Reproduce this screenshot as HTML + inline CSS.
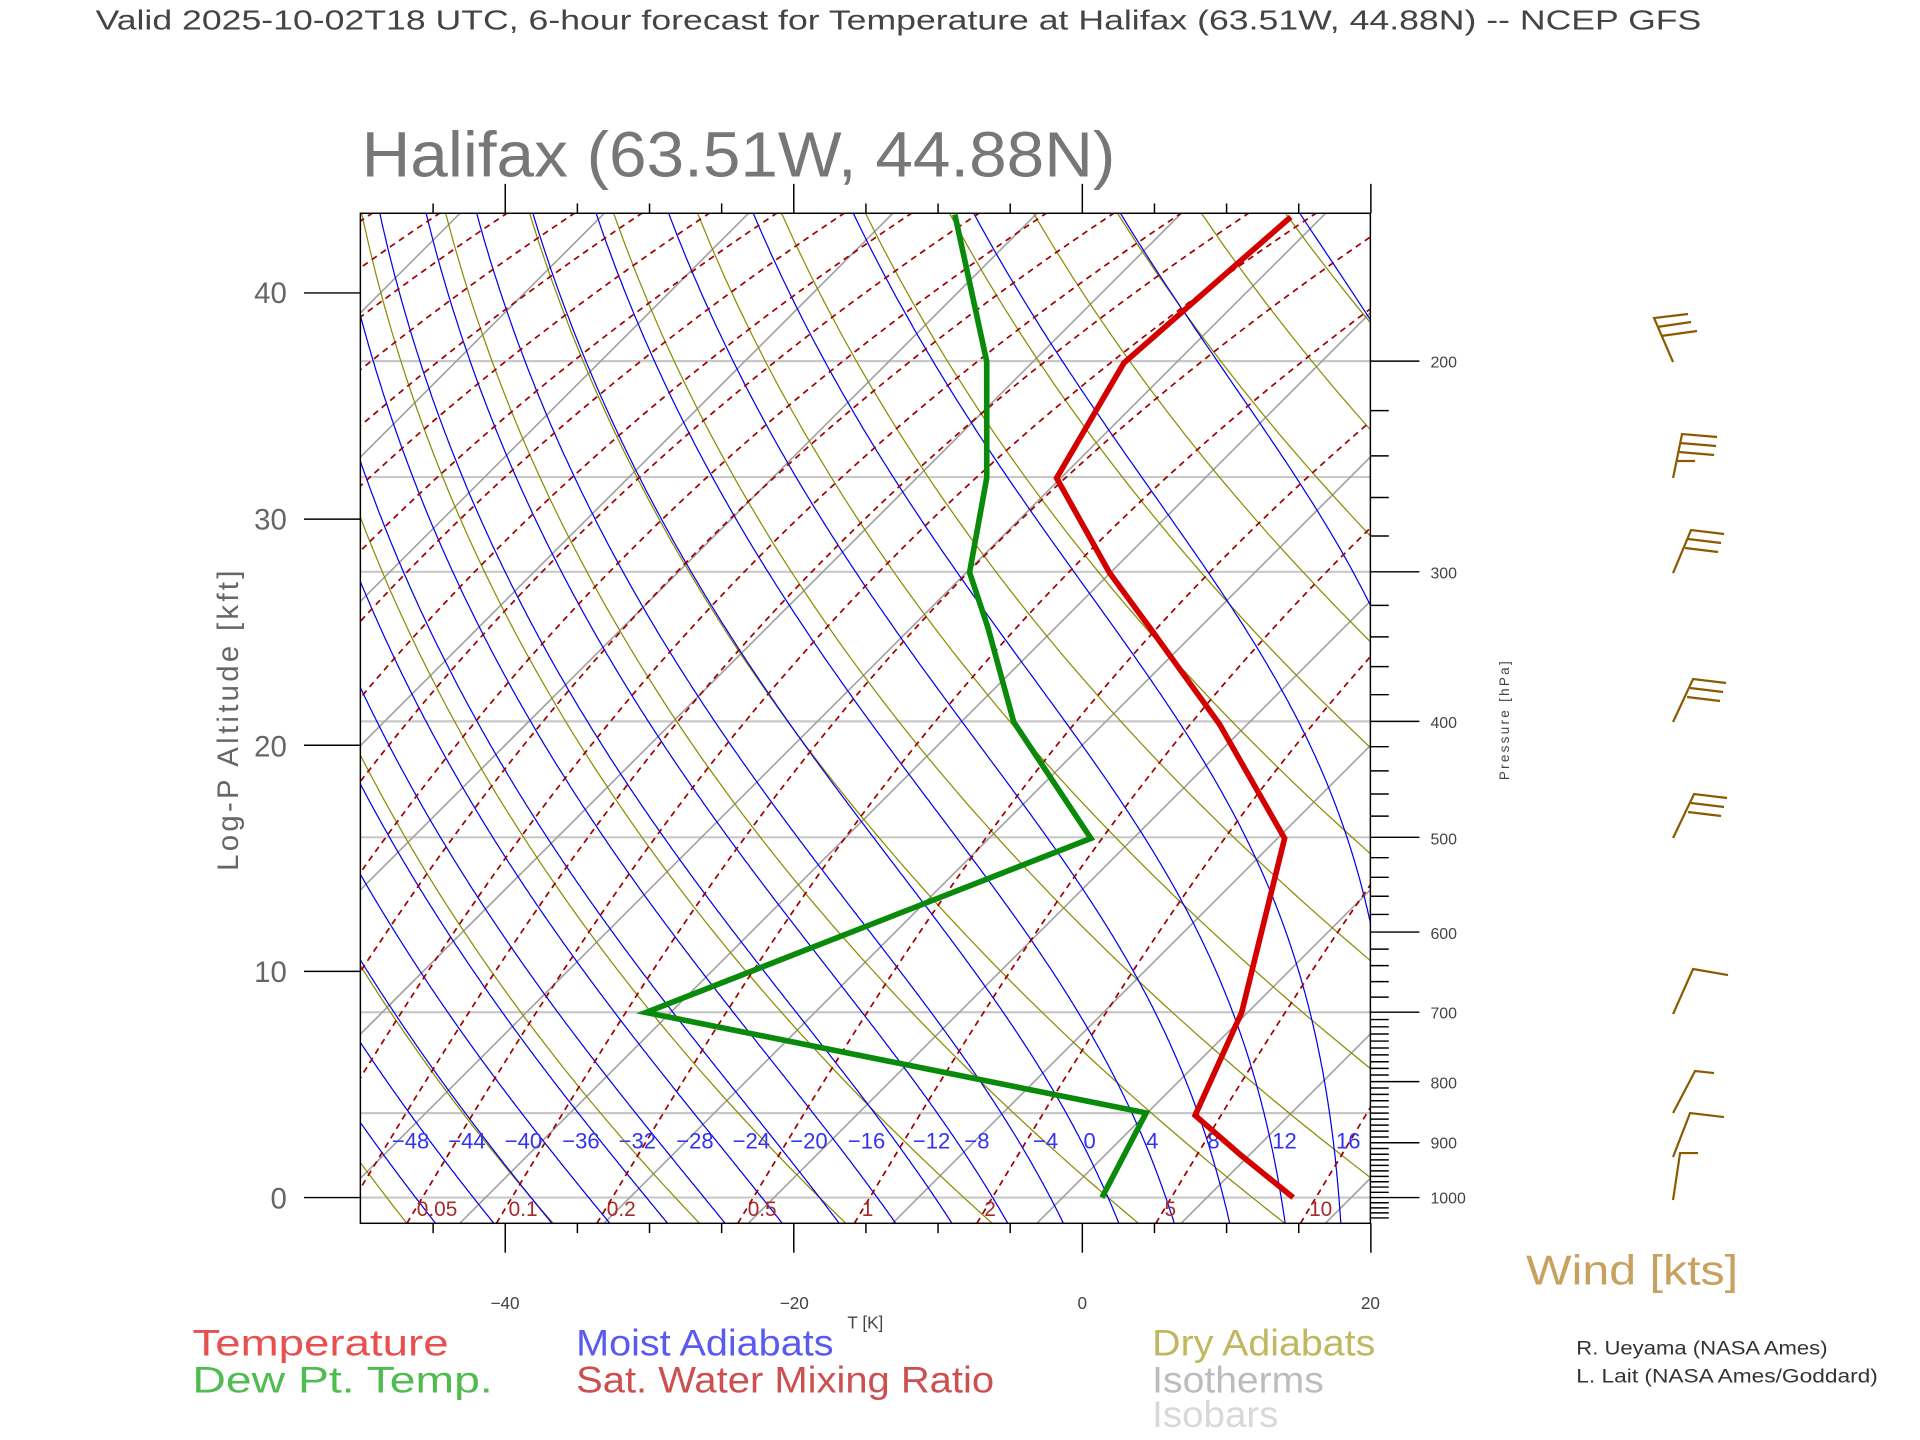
<!DOCTYPE html>
<html><head><meta charset="utf-8">
<style>
html,body{margin:0;padding:0;background:#fff;}
svg{display:block;font-family:"Liberation Sans",sans-serif;}
</style></head>
<body>
<svg id="s" width="1920" height="1440" viewBox="0 0 1566.4 1174.8" xmlns="http://www.w3.org/2000/svg">
<rect x="0" y="0" width="1566.4" height="1174.8" fill="#fff"/>
<defs><clipPath id="cp"><rect x="294" y="174" width="824" height="824"/></clipPath></defs>
<g id="grid" clip-path="url(#cp)"></g>
<g id="labs"></g>
<g clip-path="url(#cp)">
<polyline fill="none" stroke="#0a8a0a" stroke-width="4.6" stroke-linejoin="miter" points="899,977 935,908 527,826 890,684 827,589 806,512 791,467 805,390 805,295 779,175"/>
<polyline fill="none" stroke="#d40000" stroke-width="4.6" stroke-linejoin="miter" points="1055,977 1013,943 975,910 1013,826 1048,684 995,591 938,512 905,467 862,390 917,296 1053,177"/>
</g>
<rect x="294" y="174" width="824" height="824" fill="none" stroke="#000" stroke-width="1.2"/>
<g id="ticks" stroke="#000" stroke-width="1.2"></g>
<g font-size="24" fill="#666" text-anchor="end">
<text x="234" y="986">0</text><text x="234" y="801">10</text><text x="234" y="617">20</text><text x="234" y="432">30</text><text x="234" y="247">40</text>
</g>
<text transform="translate(194,588) rotate(-90)" font-size="24" fill="#666" text-anchor="middle" textLength="245">Log-P Altitude [kft]</text>
<g font-size="13" fill="#444">
<text x="1167" y="300">200</text><text x="1167" y="472">300</text><text x="1167" y="594">400</text><text x="1167" y="689">500</text><text x="1167" y="766">600</text><text x="1167" y="831">700</text><text x="1167" y="888">800</text><text x="1167" y="937">900</text><text x="1167" y="982">1000</text>
</g>
<text transform="translate(1231,588) rotate(-90)" font-size="11" fill="#444" text-anchor="middle" textLength="97">Pressure [hPa]</text>
<g font-size="14" fill="#444" text-anchor="middle">
<text x="412" y="1068">−40</text><text x="648" y="1068">−20</text><text x="883" y="1068">0</text><text x="1118" y="1068">20</text>
<text x="706" y="1084">T [K]</text>
</g>
<text x="78" y="24" font-size="23" fill="#444" textLength="1310" lengthAdjust="spacingAndGlyphs">Valid 2025-10-02T18 UTC, 6-hour forecast for Temperature at Halifax (63.51W, 44.88N) -- NCEP GFS</text>
<text x="295" y="144" font-size="52" fill="#777" textLength="615" lengthAdjust="spacingAndGlyphs">Halifax (63.51W, 44.88N)</text>
<g font-size="30">
<text x="157" y="1106" fill="#e85050" textLength="209" lengthAdjust="spacingAndGlyphs">Temperature</text>
<text x="157" y="1136" fill="#50bc50" textLength="245" lengthAdjust="spacingAndGlyphs">Dew Pt. Temp.</text>
<text x="470" y="1106" fill="#5a5af0" textLength="210" lengthAdjust="spacingAndGlyphs">Moist Adiabats</text>
<text x="470" y="1136" fill="#cc5050" textLength="341" lengthAdjust="spacingAndGlyphs">Sat. Water Mixing Ratio</text>
<text x="940" y="1106" fill="#c0b860" textLength="182" lengthAdjust="spacingAndGlyphs">Dry Adiabats</text>
<text x="940" y="1136" fill="#bcbcbc" textLength="140" lengthAdjust="spacingAndGlyphs">Isotherms</text>
<text x="940" y="1164" fill="#d8d8d8" textLength="103" lengthAdjust="spacingAndGlyphs">Isobars</text>
<text x="1245" y="1048" font-size="34" fill="#c8a060" textLength="173" lengthAdjust="spacingAndGlyphs">Wind [kts]</text>
</g>
<g font-size="16" fill="#333">
<text x="1286" y="1105" textLength="205" lengthAdjust="spacingAndGlyphs">R. Ueyama (NASA Ames)</text>
<text x="1286" y="1128" textLength="246" lengthAdjust="spacingAndGlyphs">L. Lait (NASA Ames/Goddard)</text>
</g>
<g transform="scale(0.81586)" stroke="#8b5a00" stroke-width="2.2" fill="none">
<path d="M1673,362 L1654,318 L1688,314 M1657,327 L1691,322 M1661,336 L1697,331"/>
<path d="M1673,478 L1682,434 L1717,437 M1680,443 L1716,446 M1679,452 L1714,455 M1677,461 L1695,461"/>
<path d="M1673,573 L1691,530 L1724,534 M1688,539 L1721,543 M1685,548 L1718,552"/>
<path d="M1673,722 L1693,679 L1726,683 M1690,688 L1723,692 M1687,697 L1720,701"/>
<path d="M1673,838 L1694,794 L1727,798 M1691,803 L1724,807 M1688,812 L1721,816"/>
<path d="M1673,1014 L1693,969 L1728,975"/>
<path d="M1673,1113 L1695,1071 L1714,1073"/>
<path d="M1673,1157 L1690,1113 L1724,1117"/>
<path d="M1673,1200 L1680,1153 L1698,1153"/>
</g>
</svg>
<script>
(function(){
var NS="http://www.w3.org/2000/svg";
function Y(p){return 977-424*Math.log(1000/p);}
function X(T,p){return 883+11.77*T+(998-Y(p));}
var g=document.getElementById('grid');
function pl(pts,st,w,dash){var e=document.createElementNS(NS,'polyline');e.setAttribute('points',pts.map(function(a){return a[0].toFixed(1)+','+a[1].toFixed(1);}).join(' '));e.setAttribute('fill','none');e.setAttribute('stroke',st);e.setAttribute('stroke-width',w);if(dash)e.setAttribute('stroke-dasharray',dash);g.appendChild(e);}
[1000,850,700,500,400,300,250,200].forEach(function(p){pl([[294,Y(p)],[1118,Y(p)]],'#c8c8c8',1.8);});
for(var k=13;k<=34;k++){var T=k*10-273.15;pl([[X(T,1060),Y(1060)],[X(T,140),Y(140)]],'#a0a0a0',1.3);}
for(var th=-100;th<=220;th+=10){var pts=[];for(var p=1060;p>=140;p-=10){pts.push([X((th+273.15)*Math.pow(p/1000,0.2857)-273.15,p),Y(p)]);}pl(pts,'#8b8b00',1);}
function es(T){return 6.112*Math.exp(17.67*T/(T+243.5));}
function dTdp(T,p){var Tk=T+273.15,e=es(T),rs=0.622*e/(p-e);return (287*Tk+2.5e6*rs)/(p*(1004+2.5e6*2.5e6*rs*0.622/(287*Tk*Tk)));}
for(var tw=-48;tw<=36;tw+=4){var up=[],T=tw,p;for(p=1000;p>=140;p-=2){up.push([X(T,p),Y(p)]);T-=dTdp(T,p)*2;}
var dn=[];T=tw;for(p=1000;p<=1060;p+=2){dn.push([X(T,p),Y(p)]);T+=dTdp(T,p)*2;}
pl(dn.reverse().concat(up),'#0000ee',1);}
var x0s=[332,405,487,602,697,797,943,1061,1175,1290];
for(var x=277;x>-900;x-=55)x0s.push(x);
x0s.forEach(function(x0){var pts=[];for(var u=0;u<=830;u+=10){var dx=0.6*u+0.9*u*u*u/(3*824*824);pts.push([x0+dx,998-u]);}pl(pts,'#a00000',1.4,'5,4');});
var L=document.getElementById('labs');
function tx(s,x,y,fs,col,anc){var e=document.createElementNS(NS,'text');e.setAttribute('x',x);e.setAttribute('y',y);e.setAttribute('font-size',fs);e.setAttribute('fill',col);if(anc)e.setAttribute('text-anchor',anc);e.textContent=s;L.appendChild(e);}
var ml=[[-48,335],[-44,381],[-40,427],[-36,474],[-32,520],[-28,567],[-24,613],[-20,660],[-16,707],[-12,760],[-8,797],[-4,853],[0,889],[4,940],[8,990],[12,1048],[16,1100]];
ml.forEach(function(a){tx((a[0]<0?'−':'')+Math.abs(a[0]),a[1],937,18,'#3333ee','middle');});
[['0.05',340],['0.1',415],['0.2',495],['0.5',610],['1',703],['2',803],['5',950],['10',1068]].forEach(function(a){tx(a[0],a[1],992,17,'#a52a2a');});
var tk=document.getElementById('ticks');
function ln(x1,y1,x2,y2){var e=document.createElementNS(NS,'line');e.setAttribute('x1',x1);e.setAttribute('y1',y1);e.setAttribute('x2',x2);e.setAttribute('y2',y2);tk.appendChild(e);}
for(var kf=0;kf<=40;kf+=10){var yy=977-18.45*kf;ln(248,yy,294,yy);}
for(var t=-45;t<=20;t+=5){var xx=883+11.77*t;if(xx<294)continue;var lg=(t%20==0);ln(xx,998,xx,lg?1022:1006);ln(xx,174,xx,lg?150:166);}
for(var p=200;p<=1040;p+=(p<700?20:10)){var yy=Y(p);if(yy<174||yy>998)continue;var lab=[200,300,400,500,600,700,800,900,1000].indexOf(p)>=0;ln(1118,yy,lab?1158:1133,yy);}
})();
</script>
</body></html>
